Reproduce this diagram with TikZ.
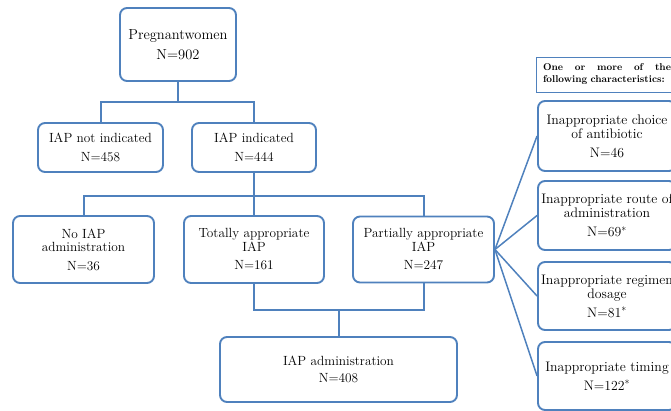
\documentclass[tikz,border=0pt]{standalone}
\usetikzlibrary{calc}
\definecolor{bl}{RGB}{79,129,189}
\begin{document}
\begin{tikzpicture}[x=1pt,y=-1pt,
 box/.style={draw=bl, line width=1.9pt, rounded corners=7pt, fill=white, align=center, inner sep=1pt, font=\fontsize{13.3}{13.5}\selectfont},
 bigbox/.style={box, font=\fontsize{14.5}{15}\selectfont},
 sidebox/.style={box, font=\fontsize{13.8}{14}\selectfont},
 conn/.style={draw=bl, line width=2pt},
 fan/.style={draw=bl, line width=1.5pt},
 descbox/.style={draw=bl, line width=0.8pt, text width=128pt, inner xsep=7pt, minimum height=35pt, align=left, font=\bfseries\fontsize{9.9}{12}\selectfont},
]
\useasboundingbox (0,0) rectangle (671,411);
\clip (0,0) rectangle (671,411);

\node[bigbox, minimum width=116pt, minimum height=73pt] (preg) at (178,44.5) {Pregnantwomen\\[5pt]N=902};
\node[box, minimum width=125pt, minimum height=49pt] (notind) at (100.5,147.5) {IAP not indicated\\[5pt]N=458};
\node[box, minimum width=124pt, minimum height=49pt] (ind) at (254,147.5) {IAP indicated\\[5pt]N=444};
\node[box, minimum width=141pt, minimum height=67pt] (noiap) at (83.5,249.5) {No IAP\\administration\\[5pt]N=36};
\node[box, minimum width=140pt, minimum height=67pt] (tot) at (254,249.5) {Totally appropriate\\IAP\\[5pt]N=161};
\node[box, minimum width=141pt, minimum height=66pt] (part) at (423.5,249.5) {Partially appropriate\\IAP\\[5pt]N=247};
\node[box, minimum width=237pt, minimum height=65pt] (admin) at (338.5,369.5) {IAP administration\\[3pt]N=408};

\node[descbox] (desc) at (607,74.5) {One\hfill or\hfill more\hfill of\hfill the\\following characteristics:};
\node[sidebox, minimum width=138pt, minimum height=70pt] (choice) at (607,136) {Inappropriate choice\\of antibiotic\\[5pt]N=46};
\node[sidebox, minimum width=138pt, minimum height=69pt] (route) at (607,215.5) {Inappropriate route of\\administration\\[5pt]N=69$^{*}$};
\node[sidebox, minimum width=138pt, minimum height=68pt] (regimen) at (607,296) {Inappropriate regimen\\dosage\\[5pt]N=81$^{*}$};
\node[sidebox, minimum width=138pt, minimum height=68pt] (timing) at (607,376) {Inappropriate timing\\[5pt]N=122$^{*}$};

\coordinate (j1) at ($(preg.south)+(0,20)$);
\coordinate (j2) at ($(ind.south)+(0,23)$);
\coordinate (j3) at ($(tot.south)+(0,26)$);

\draw[conn] (preg.south) -- (j1);
\draw[conn] (notind.north) |- (j1) -| (ind.north);
\draw[conn] (ind.south) -- (j2);
\draw[conn] (noiap.north) |- (j2) -| (part.north);
\draw[conn] (tot.north) -- (j2);
\draw[conn] (tot.south) -- (j3) -| (part.south);
\draw[conn] (admin.north) -- (admin.north |- j3);

\draw[fan] (part.east) -- (choice.west);
\draw[fan] (part.east) -- (route.west);
\draw[fan] (part.east) -- (regimen.west);
\draw[fan] (part.east) -- (timing.west);
\end{tikzpicture}
\end{document}
